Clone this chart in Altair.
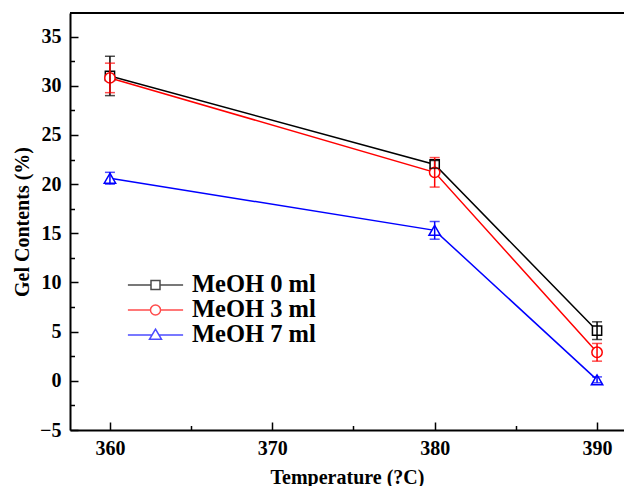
import altair as alt
import pandas as pd

# ---- data ----
temps = [360, 380, 390]
series_names = ["MeOH 0 ml", "MeOH 3 ml", "MeOH 7 ml"]
meoh0 = [31.0, 22.0, 5.1]
meoh0_err = [2.0, 0.4, 0.9]
meoh3 = [30.8, 21.2, 2.9]
meoh3_err = [1.5, 1.5, 0.9]
meoh7 = [20.6, 15.3, 0.1]
meoh7_err = [0.6, 0.9, 0.3]

y_major = [-5, 0, 5, 10, 15, 20, 25, 30, 35]
y_minor = [-2.5, 2.5, 7.5, 12.5, 17.5, 22.5, 27.5, 32.5]
x_major = [360, 370, 380, 390]
x_minor = [365, 375, 385]

colors = ["#000000", "#ff0000", "#0000ff"]
shapes = ["square", "circle", "triangle-up"]
sizes = [85, 130, 130]
legend_paths = [
    "M-2.3,0H-0.375M0.375,0H2.3M-0.375,-0.375H0.375V0.375H-0.375Z",
    "M-2.3,0H-0.42M0.42,0H2.3M0.42,0A0.42,0.42,0,1,1,-0.42,0A0.42,0.42,0,1,1,0.42,0Z",
    "M-2.3,0H-0.3M0.3,0H2.3M0,-0.48L0.5,0.36H-0.5Z",
]

rows = []
for name, vals, errs in [(series_names[0], meoh0, meoh0_err),
                         (series_names[1], meoh3, meoh3_err),
                         (series_names[2], meoh7, meoh7_err)]:
    for t, v, e in zip(temps, vals, errs):
        rows.append({"series": name, "T": t, "G": v, "lo": v - e, "hi": v + e})
df = pd.DataFrame(rows)

W, H = 554, 417
FONT = "Liberation Serif"

x_scale = alt.Scale(domain=[357.54, 391.66], nice=False, zero=False)
y_scale = alt.Scale(domain=[-5, 37.4], nice=False, zero=False)
color_scale = alt.Scale(domain=series_names, range=colors)

# main axes: domain line, labels, titles (no ticks)
x_main_axis = alt.Axis(
    orient="bottom", values=x_major, format="d", grid=False,
    domain=True, domainColor="black", domainWidth=2, ticks=False,
    labelFont=FONT, labelFontWeight="bold", labelFontSize=20, labelColor="black",
    labelPadding=8,
    title="Temperature (?C)", titleFont=FONT, titleFontWeight="bold",
    titleFontSize=20, titleColor="black", titlePadding=9,
)
y_main_axis = alt.Axis(
    orient="left", values=y_major, format="d", grid=False,
    domain=True, domainColor="black", domainWidth=2, ticks=False,
    labelFont=FONT, labelFontWeight="bold", labelFontSize=20, labelColor="black",
    labelPadding=9,
    title="Gel Contents (%)", titleFont=FONT, titleFontWeight="bold",
    titleFontSize=20, titleColor="black", titlePadding=7,
)


# inward ticks: axes on the opposite side, shifted back onto the plot edge
def tick_axis(orient, vals, size, shift):
    return alt.Axis(
        orient=orient, values=vals, grid=False, domain=False, labels=False,
        ticks=True, tickColor="black", tickWidth=1.5, tickSize=size,
        offset=shift, title=None,
    )


base = alt.Chart(df)

lines = base.mark_line(strokeWidth=1.5).encode(
    x=alt.X("T:Q", scale=x_scale, axis=x_main_axis),
    y=alt.Y("G:Q", scale=y_scale, axis=y_main_axis),
    color=alt.Color("series:N", scale=color_scale, legend=None),
)

points = base.mark_point(filled=True, fill="white", strokeWidth=1.5, opacity=1).encode(
    x=alt.X("T:Q", scale=x_scale, axis=tick_axis("top", x_major, 8, -H)),
    y=alt.Y("G:Q", scale=y_scale, axis=tick_axis("right", y_major, 8, -W)),
    stroke=alt.Stroke("series:N", scale=color_scale, legend=None),
    shape=alt.Shape("series:N", scale=alt.Scale(domain=series_names, range=shapes), legend=None),
    size=alt.Size("series:N", scale=alt.Scale(domain=series_names, range=sizes), legend=None),
)

err_rules = base.mark_rule(strokeWidth=1.5).encode(
    x=alt.X("T:Q", scale=x_scale, axis=tick_axis("top", x_minor, 4.5, -H)),
    y=alt.Y("lo:Q", scale=y_scale, axis=tick_axis("right", y_minor, 4.5, -W)),
    y2="hi:Q",
    color=alt.Color("series:N", scale=color_scale, legend=None),
)

err_caps = base.transform_fold(["lo", "hi"], as_=["k", "v"]).mark_tick(
    orient="horizontal", size=10, thickness=1.5
).encode(
    x=alt.X("T:Q", scale=x_scale, axis=None),
    y=alt.Y("v:Q", scale=y_scale, axis=None),
    color=alt.Color("series:N", scale=color_scale, legend=None),
)

legend_props = dict(
    title=None, orient="none", legendX=72.5, legendY=259, padding=0,
    symbolSize=576, symbolStrokeWidth=1.5, symbolFillColor="white",
    labelFont=FONT, labelFontWeight="bold", labelFontSize=24.5, labelColor="black",
    labelOffset=23.5, rowPadding=0, labelLimit=300,
)
legend_layer = base.transform_filter("false").mark_point(filled=False, strokeWidth=1.5).encode(
    x=alt.X("T:Q", scale=x_scale, axis=None),
    y=alt.Y("G:Q", scale=y_scale, axis=None),
    color=alt.Color("series:N", scale=color_scale, legend=alt.Legend(**legend_props)),
    shape=alt.Shape("series:N", scale=alt.Scale(domain=series_names, range=legend_paths),
                    legend=alt.Legend(**legend_props)),
)

top_frame = alt.Chart(pd.DataFrame({"k": [0]})).mark_rule(color="black", strokeWidth=2).encode(
    x=alt.value(0), x2=alt.value(W), y=alt.value(0)
)

chart = alt.layer(
    lines, points, err_rules, err_caps, legend_layer, top_frame
).resolve_axis(
    x="independent", y="independent"
).resolve_scale(
    color="independent", shape="independent"
).properties(
    width=W, height=H,
    padding={"left": 62, "top": 5, "right": 0, "bottom": 56},
    autosize=alt.AutoSizeParams(type="none"),
    background="white",
).configure_view(stroke=None)

chart.save("out.html", embed_options={"renderer": "svg", "actions": False})
